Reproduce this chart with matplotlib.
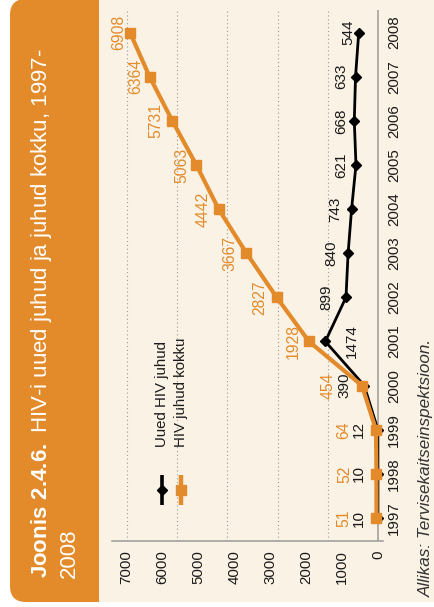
'''
HIV uued juhud ja juhud kokku, 1997-2008
'''

# Imports
import numpy as np
import matplotlib
matplotlib.use('Agg')
import matplotlib.pyplot as plt
from matplotlib.patches import Rectangle, FancyBboxPatch

# Data
years = [1997, 1998, 1999, 2000, 2001, 2002, 2003, 2004, 2005, 2006, 2007, 2008]
new_cases = [10, 10, 12, 390, 1474, 899, 840, 743, 621, 668, 633, 544]
total_cases = [51, 52, 64, 454, 1928, 2827, 3667, 4442, 5063, 5731, 6364, 6908]
value_ticks = [0, 1000, 2000, 3000, 4000, 5000, 6000, 7000]
grid_values = [1400, 2800, 4200, 5600, 7000]

# label shifts in pixels (left = towards bigger values)
total_dx = [-33, -32, -32, -34, -16, -17, -16.5, -16, -14.5, -16, -14, -11.5]
new_dx = [-19, -19, -19, -20, 27, -20, -17, -16.5, -15, -13.5, -14, -10]

ORANGE = '#E38B2A'
CREAM = '#FBF2E6'
GRID = '#9A9A9A'
INK = '#1A1A1A'

plt.rcParams['font.family'] = ['Liberation Sans', 'DejaVu Sans']
plt.rcParams['mathtext.fontset'] = 'custom'
plt.rcParams['mathtext.rm'] = 'Liberation Sans'
plt.rcParams['mathtext.bf'] = 'Liberation Sans:bold'

W, H = 435, 607
fig = plt.figure(figsize=(W / 100, H / 100), dpi=100, facecolor='white')

# Background layer in pixel units
bg = fig.add_axes([0, 0, 1, 1], zorder=0)
bg.set_xlim(0, W)
bg.set_ylim(H, 0)
bg.axis('off')
bg.add_patch(Rectangle((99, 0), W - 99, 602, color=CREAM, lw=0))
bg.add_patch(FancyBboxPatch((10, -1), 89, 603, boxstyle='round,pad=0,rounding_size=16',
                            color=ORANGE, lw=0))
bg.add_patch(Rectangle((60, -1), 39, 603, color=ORANGE, lw=0))

# Title
bg.text(47, 578, r'$\mathbf{Joonis\ 2.4.6.}$ HIV-i uued juhud ja juhud kokku, 1997-',
        rotation=90, rotation_mode='anchor', ha='left', va='baseline',
        color='white', fontsize=16)
bg.text(75, 578, '2008', rotation=90, rotation_mode='anchor', ha='left',
        va='baseline', color='white', fontsize=16)

# Source
bg.text(431, 597, 'Allikas: Tervisekaitseinspektsioon.', rotation=90,
        rotation_mode='anchor', ha='left', va='baseline', color='#333333',
        fontsize=12.3, style='italic')

# Legend (drawn by hand, rotated)
for xc, col, mk, ms, label in [(162.5, 'black', 'D', 5, 'Uued HIV juhud'),
                               (181.5, ORANGE, 's', 7.5, 'HIV juhud kokku')]:
    bg.plot([xc, xc], [475, 505], color=col, lw=2.6 if col == 'black' else 3.2,
            solid_capstyle='butt')
    bg.plot([xc], [490], marker=mk, color=col, ms=ms, ls='none')
    bg.text(xc, 447, label, rotation=90, rotation_mode='anchor', ha='left',
            va='center', color=INK, fontsize=10.8)

# Chart
ax = fig.add_axes([112 / W, 1 - 541 / H, (383 - 112) / W, (541 - 10) / H], zorder=1)
ax.set_facecolor('none')
ax.set_xlim(7409, -131)
ax.set_ylim(1996.479, 2008.51)

for v in grid_values:
    ax.axvline(v, color=GRID, lw=0.8, ls=(0, (1, 2.5)), zorder=0)
ax.axvline(0, color=GRID, lw=1.1, zorder=1)

ax.plot(new_cases, years, color='black', lw=2.0, marker='D', ms=5, zorder=3)
ax.plot(total_cases, years, color=ORANGE, lw=3, marker='s', ms=7.5, zorder=4)

for v, y, dx in zip(total_cases, years, total_dx):
    ax.annotate(str(v), xy=(v, y), xytext=(dx, 0), textcoords='offset pixels',
                rotation=90, ha='center', va='center', color=ORANGE, fontsize=11.3)
for v, y, dx in zip(new_cases, years, new_dx):
    ax.annotate(str(v), xy=(v, y), xytext=(dx, 0), textcoords='offset pixels',
                rotation=90, ha='center', va='center', color=INK, fontsize=11)

ax.set_xticks(value_ticks)
ax.set_xticklabels([str(t) for t in value_ticks])
ax.set_yticks(years)
ax.set_yticklabels([str(y) for y in years])
ax.yaxis.tick_right()
ax.tick_params(axis='x', length=0, pad=6.5, labelrotation=90, labelsize=10.8,
               labelcolor=INK)
ax.tick_params(axis='y', length=0, pad=3, labelrotation=90, labelsize=10.8,
               labelcolor=INK)
for lbl in ax.get_yticklabels():
    lbl.set_verticalalignment('center')

for s in ['top', 'left', 'right']:
    ax.spines[s].set_visible(False)
ax.spines['bottom'].set_color(GRID)
ax.spines['bottom'].set_linewidth(1.1)

fig.savefig('out.png', dpi=100, facecolor='white')
